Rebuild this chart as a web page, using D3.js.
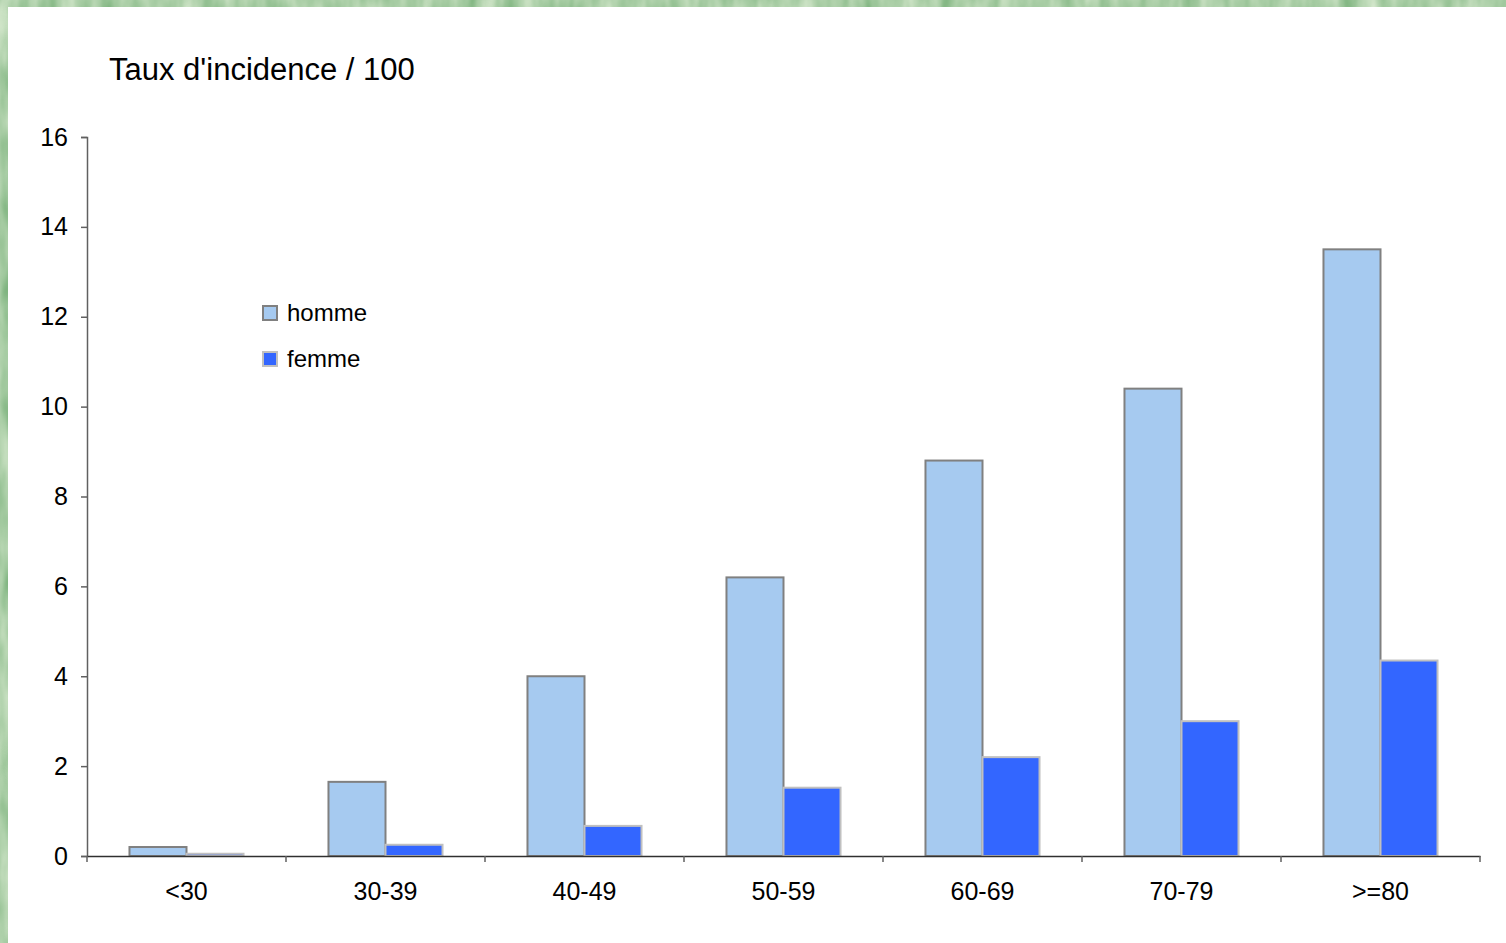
<!DOCTYPE html>
<html>
<head>
<meta charset="utf-8">
<script src="https://cdn.jsdelivr.net/npm/d3@7"></script>
<style>
  html, body { margin: 0; padding: 0; background: #fff; }
  svg { display: block; }
  text { font-family: "Liberation Sans", Arial, sans-serif; fill: #000; }
</style>
</head>
<body>
<div id="chart"></div>
<script>
// Incidence rate per 100, by age group and sex
const categories = ["<30", "30-39", "40-49", "50-59", "60-69", "70-79", ">=80"];
const series = ["homme", "femme"];
const hommeValues = [0.2, 1.65, 4.0, 6.2, 8.8, 10.4, 13.5];
const femmeValues = [0.05, 0.25, 0.67, 1.52, 2.2, 3.0, 4.35];
const yTicks = [0, 2, 4, 6, 8, 10, 12, 14, 16];
const titleText = "Taux d'incidence / 100";

const W = 1506, H = 943;
const svg = d3.select("#chart").append("svg").attr("width", W).attr("height", H);

// textured green backdrop behind the white panel
const defs = svg.append("defs");
const f = defs.append("filter").attr("id", "paper").attr("x", 0).attr("y", 0).attr("width", "100%").attr("height", "100%")
  .attr("color-interpolation-filters", "sRGB");
f.append("feTurbulence").attr("type", "fractalNoise").attr("baseFrequency", "0.05 0.015").attr("numOctaves", 3).attr("seed", 4).attr("result", "noise");
f.append("feColorMatrix").attr("in", "noise").attr("type", "matrix")
  .attr("values", "0.5 0 0 0 0.42  0.3 0 0 0 0.66  0.45 0 0 0 0.43  0 0 0 0 1");

svg.append("rect").attr("width", W).attr("height", H).attr("fill", "#b0d4ae").attr("filter", "url(#paper)");
svg.append("rect").attr("x", 8).attr("y", 7).attr("width", W - 8).attr("height", H - 7).attr("fill", "#ffffff");

// scales
const x = d3.scaleBand().domain(categories).range([87, 1480]).paddingInner(0).paddingOuter(0);
const xs = d3.scaleBand().domain(series).range([0, x.bandwidth()]).paddingInner(0).paddingOuter(0.745);
const y = d3.scaleLinear().domain([0, 16]).range([856, 137]);

const colors = { homme: "#a6caf0", femme: "#3366ff" };
const strokes = { homme: "#808080", femme: "#c0c0c0" };
const valuesBy = { homme: hommeValues, femme: femmeValues };

// bars
series.forEach(s => {
  svg.append("g").selectAll("rect")
    .data(categories.map((c, i) => ({ c, v: valuesBy[s][i] })))
    .join("rect")
    .attr("x", d => x(d.c) + xs(s))
    .attr("y", d => y(d.v))
    .attr("width", xs.bandwidth())
    .attr("height", d => y(0) - y(d.v))
    .attr("fill", colors[s])
    .attr("stroke", strokes[s])
    .attr("stroke-width", 2);
});

// y axis
const yAxis = svg.append("g").attr("transform", "translate(87,0)")
  .call(d3.axisLeft(y).tickValues(yTicks).tickSize(6).tickPadding(13).tickFormat(d3.format("d")));
yAxis.select(".domain").attr("stroke", "#606060").attr("stroke-width", 1.5);
yAxis.selectAll(".tick line").attr("stroke", "#606060").attr("stroke-width", 1.5);
yAxis.selectAll("text").style("font-size", "25px").style("font-family", "'Liberation Sans', Arial, sans-serif").attr("fill", "#000");

// x axis: category labels centred, tick marks on band boundaries
const xAxis = svg.append("g").attr("transform", `translate(0,${y(0)})`)
  .call(d3.axisBottom(x).tickSize(0).tickPadding(26));
xAxis.select(".domain").attr("stroke", "#303030").attr("stroke-width", 1.5);
xAxis.selectAll("text").style("font-size", "25px").style("font-family", "'Liberation Sans', Arial, sans-serif").attr("fill", "#000");
const bounds = categories.map(c => x(c)).concat([x.range()[1]]);
svg.append("g").selectAll("line").data(bounds).join("line")
  .attr("x1", d => d).attr("x2", d => d)
  .attr("y1", y(0)).attr("y2", y(0) + 6)
  .attr("stroke", "#606060").attr("stroke-width", 1.5);

// title
svg.append("text").attr("x", 109).attr("y", 80).style("font-size", "31px").text(titleText);

// legend
const legend = svg.append("g");
series.forEach((s, i) => {
  const ly = 313 + i * 46;
  legend.append("rect").attr("x", 263).attr("y", ly - 7).attr("width", 14).attr("height", 14)
    .attr("fill", colors[s]).attr("stroke", strokes[s]).attr("stroke-width", 2);
  legend.append("text").attr("x", 287).attr("y", ly + 8).style("font-size", "24px").text(s);
});
</script>
</body>
</html>
